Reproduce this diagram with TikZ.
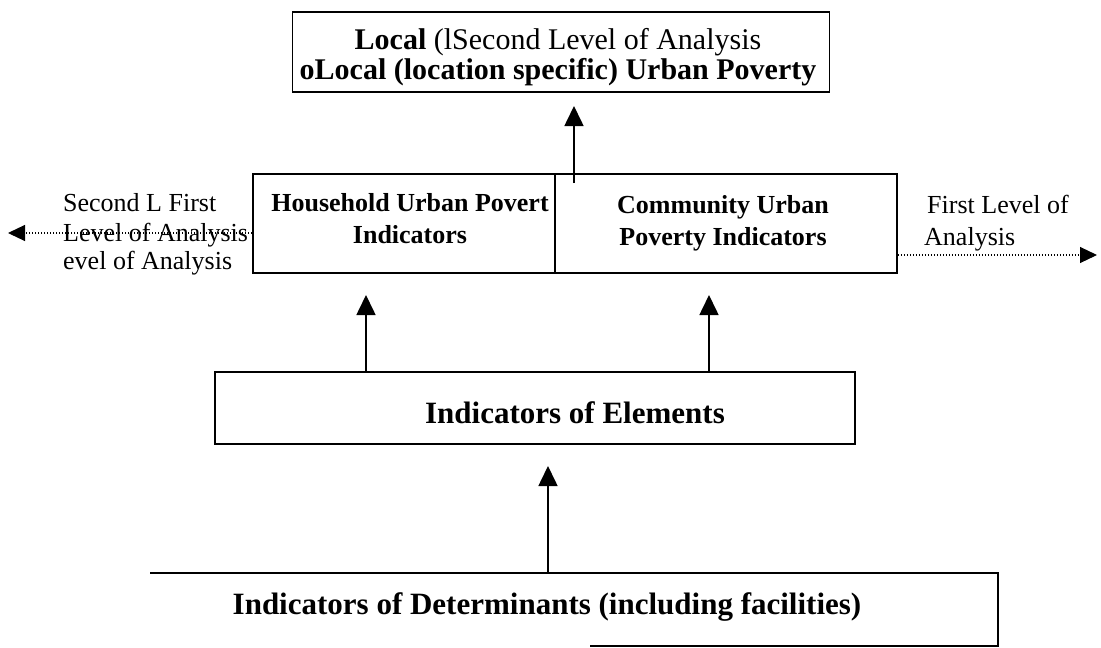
\documentclass[tikz,border=0pt]{standalone}
\usepackage{fontspec}
\setmainfont{Liberation Serif}
\usetikzlibrary{arrows.meta}
\begin{document}
\begin{tikzpicture}[x=1pt,y=-1pt,
  box/.style={draw, line width=1.6pt, inner sep=0pt},
  txt/.style={inner sep=0pt, anchor=base},
  ltxt/.style={inner sep=0pt, anchor=base west},
  mid/.style={font=\fontsize{26}{29}\selectfont},
  midb/.style={font=\fontsize{26}{29}\selectfont\bfseries},
  topf/.style={font=\fontsize{30}{33}\selectfont},
  topfb/.style={font=\fontsize{30}{33}\selectfont\bfseries},
  big/.style={font=\fontsize{31}{34}\selectfont\bfseries},
  arr/.style={line width=1.6pt, -{Triangle[length=20pt,width=19pt]}},
  dotarr/.style={line width=1.1pt, dash pattern=on 1.6pt off 1.4pt,
                 -{Triangle[length=17pt,width=16pt]}},
]
\useasboundingbox (0,0) rectangle (1101,648);
\fill[white] (0,0) rectangle (1101,648);

% boxes
\node[box, minimum width=537pt, minimum height=80pt] (top) at (561,52) {};
\node[box, minimum width=302pt, minimum height=99pt] (hh) at (404,223.5) {};
\node[box, minimum width=342pt, minimum height=99pt] (cm) at (726,223.5) {};
\node[box, minimum width=640pt, minimum height=72pt] (el) at (535,408) {};

% open box of determinants (runs off the bottom edge)
\coordinate (dTL) at (150,573);
\coordinate (dTR) at (998,573);
\coordinate (dBR) at (998,646);
\coordinate (dBM) at (590,646);
\draw[line width=1.6pt] (dTL) -- (dTR) -- (dBR) -- (dBM);

% texts in the top box
\node[txt, topf] (t1) at (558,49)
  {\textbf{Local} (lSecond Level of Analysis};
\node[txt, topfb] (t2) at (558,79)
  {oLocal (location specific) Urban Poverty};

% household / community
\node[txt, midb] (h1) at (410,211) {Household Urban Povert};
\node[txt, midb] (h2) at (410,243) {Indicators};
\node[txt, midb] (c1) at (723,213) {Community Urban};
\node[txt, midb] (c2) at (723,245) {Poverty Indicators};

% side labels
\node[ltxt, mid] (l1) at (63,211) {Second L First};
\node[ltxt, mid] (l2) at (63,241) {Level of Analysis};
\node[ltxt, mid] (l3) at (63,269) {evel of Analysis};
\node[ltxt, mid] (r1) at (927,213) {First Level of};
\node[ltxt, mid] (r2) at (924,245) {Analysis};

% lower boxes' texts
\node[txt, big] (e1) at (575,423) {Indicators of Elements};
\node[txt, big] (d1) at (547,614) {Indicators of Determinants (including facilities)};

% connectors
\coordinate (a1) at (574,106);
\coordinate (a1s) at (574,183);
\draw[arr] (a1s) -- (a1);
\coordinate (a2) at (366,295);
\draw[arr] (el.north -| a2) -- (a2);
\coordinate (a3) at (709,295);
\draw[arr] (el.north -| a3) -- (a3);
\coordinate (a4) at (548,466);
\draw[arr] (dTL -| a4) -- (a4);

\coordinate (lend) at (8,233);
\draw[dotarr] (hh.west |- lend) -- (lend);
\coordinate (rend) at (1097,255);
\draw[dotarr] (cm.east |- rend) -- (rend);
\end{tikzpicture}
\end{document}
